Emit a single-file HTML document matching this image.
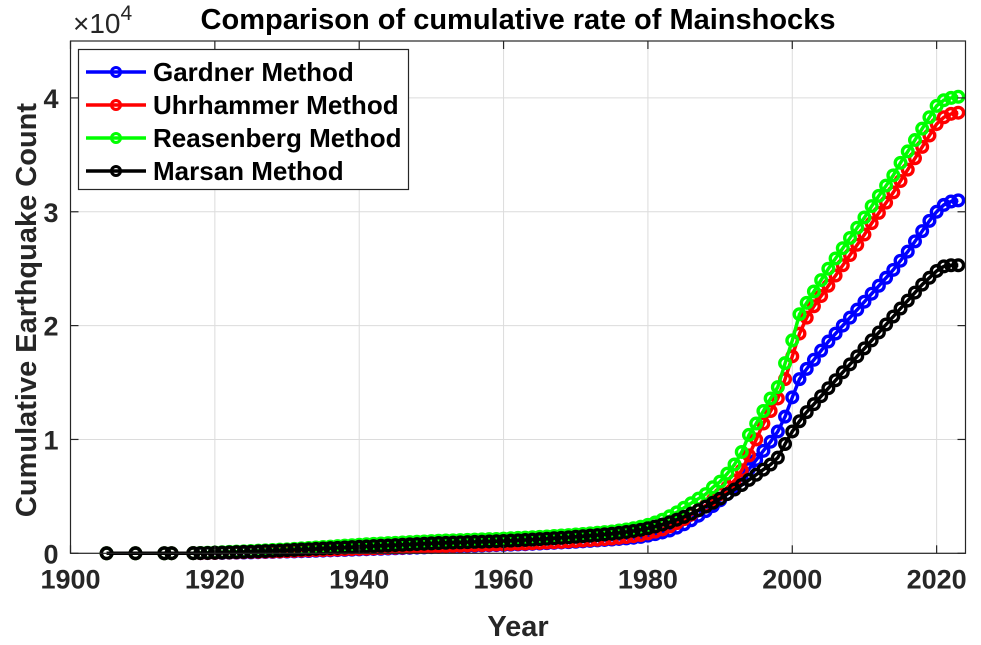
<!DOCTYPE html>
<html><head><meta charset="utf-8"><style>
body{margin:0;background:#fff}
svg text{font-family:"Liberation Sans",Arial,sans-serif;font-weight:bold}
</style></head><body>
<svg id="chart" width="981" height="640" viewBox="0 0 981 640" xmlns="http://www.w3.org/2000/svg">
<rect width="981" height="640" fill="#fff"/>
<g id="grid"></g>
<g id="series"></g>
<rect x="70.5" y="41" width="895" height="512.3" fill="none" stroke="#262626" stroke-width="1.2"/>
<g id="ticks"></g>
<text x="518" y="29" font-size="29" text-anchor="middle" fill="#000">Comparison of cumulative rate of Mainshocks</text>
<text x="73" y="33" font-size="28" fill="#262626" style="font-weight:normal">×10<tspan dy="-13" font-size="21">4</tspan></text>
<text x="518" y="636" font-size="29" text-anchor="middle" fill="#262626">Year</text>
<text transform="translate(36,310) rotate(-90)" font-size="29" text-anchor="middle" fill="#262626">Cumulative Earthquake Count</text>
<g id="legend"></g>
</svg>
<script>
const seriesNames=["Gardner Method","Uhrhammer Method","Reasenberg Method","Marsan Method"];
const seriesColors=["#0000ff","#ff0000","#00ff00","#000000"];
const xTicks=[1900,1920,1940,1960,1980,2000,2020];
const yTicks=[0,10000,20000,30000,40000];
const yTickLabels=["0","1","2","3","4"];
const earlyYears=[1905,1909,1913,1914,1917];
const years=earlyYears.slice();
for(let y=1918;y<=2023;y++)years.push(y);
const gardner=[0,0,5,8,12,
12,20,28,38,50,60,70,80,95,110,125,140,
155,170,185,200,220,240,260,280,300,320,
340,360,380,400,420,440,460,480,500,520,
540,560,580,600,620,640,660,680,700,720,
740,760,780,800,830,860,890,920,950,980,
1010,1050,1090,1130,1170,1210,1260,1310,1370,1440,
1550,1680,1830,2000,2250,2550,2900,3300,3700,4150,
4650,5200,5800,6500,7400,8200,9000,9800,10700,12000,
13700,15300,16200,17000,17800,18600,19300,20000,20700,21400,
22100,22800,23500,24200,24900,25700,26500,27400,28300,29200,
30000,30600,30900,31000];
const uhrhammer=[0,0,5,8,12,
15,25,35,50,65,80,95,110,125,140,155,170,
190,210,230,250,270,290,310,330,350,370,
390,410,430,450,470,490,510,530,550,570,
590,610,630,650,670,690,710,730,750,770,
790,810,830,850,880,910,940,970,1000,1040,
1080,1120,1160,1200,1250,1300,1360,1430,1510,1600,
1750,1900,2100,2350,2650,3000,3400,3800,4200,4700,
5200,5800,6400,7300,8600,10000,11400,12500,13600,15300,
17300,19300,20700,21700,22600,23500,24400,25300,26200,27100,
28000,29000,29900,30800,31700,32700,33700,34700,35700,36700,
37700,38300,38600,38700];
const reasenberg=[0,0,5,8,12,
30,50,70,95,120,145,170,200,230,260,290,320,
350,390,430,470,510,550,590,630,670,710,
750,790,830,860,890,920,950,980,1010,1040,
1070,1100,1120,1140,1160,1180,1200,1220,1240,1260,
1290,1320,1350,1380,1410,1440,1480,1520,1560,1600,
1650,1700,1750,1800,1860,1920,2000,2090,2200,2330,
2500,2700,2950,3250,3600,4000,4400,4800,5200,5800,
6300,7000,7800,8900,10400,11400,12500,13600,14600,16700,
18700,21000,22000,23000,24000,25000,25900,26800,27700,28600,
29500,30500,31400,32300,33200,34300,35300,36300,37300,38300,
39300,39800,40000,40100];
const marsan=[0,0,5,8,12,
20,30,45,60,80,100,120,140,165,190,215,240,
270,300,330,360,390,420,450,480,510,540,
570,600,630,660,690,720,750,780,810,840,
870,900,920,940,960,980,1000,1020,1040,1060,
1080,1110,1140,1170,1200,1240,1280,1320,1360,1400,
1450,1500,1550,1600,1660,1720,1790,1870,1960,2060,
2200,2350,2520,2720,2950,3200,3480,3780,4100,4440,
4800,5200,5600,6000,6450,6900,7350,7800,8400,9600,
10700,11600,12400,13100,13800,14500,15200,15900,16600,17300,
18000,18700,19400,20100,20800,21500,22200,22900,23600,24200,
24800,25200,25300,25300];
const allSeries=[gardner,uhrhammer,reasenberg,marsan];

const L=70.5,R=965.5,T=41,B=553.3,X0=1900,X1=2024,Y0=0,Y1=45000;
const xs=v=>L+(v-X0)/(X1-X0)*(R-L);
const ys=v=>B-(v-Y0)/(Y1-Y0)*(B-T);
const NS="http://www.w3.org/2000/svg";
function mk(tag,attrs,parent){const e=document.createElementNS(NS,tag);for(const k in attrs)e.setAttribute(k,attrs[k]);parent.appendChild(e);return e;}
const grid=document.getElementById('grid'),ticks=document.getElementById('ticks');
xTicks.forEach(t=>{const x=xs(t);
 const g=mk('line',{x1:x,x2:x,y1:T,y2:B,stroke:'#dcdcdc','stroke-width':1},grid);
 
 
 mk('line',{x1:x,x2:x,y1:B,y2:B-8,stroke:'#262626','stroke-width':1.2},ticks);
 mk('line',{x1:x,x2:x,y1:T,y2:T+8,stroke:'#262626','stroke-width':1.2},ticks);
 const tx=mk('text',{x:x,y:B+35,'font-size':27,'text-anchor':'middle',fill:'#262626'},ticks);
 tx.textContent=t;
 
 
});
yTicks.forEach((t,i)=>{const y=ys(t);
 const g=mk('line',{x1:L,x2:R,y1:y,y2:y,stroke:'#dcdcdc','stroke-width':1},grid);
 
 
 mk('line',{x1:L,x2:L+8,y1:y,y2:y,stroke:'#262626','stroke-width':1.2},ticks);
 mk('line',{x1:R,x2:R-8,y1:y,y2:y,stroke:'#262626','stroke-width':1.2},ticks);
 const tx=mk('text',{x:L-12,y:y+10,'font-size':27,'text-anchor':'end',fill:'#262626'},ticks);
 tx.textContent=yTickLabels[i];
 
 
});
const sg=document.getElementById('series');
allSeries.forEach((vals,si)=>{
 const g=mk('g',{},sg);
 
 
 const pts=years.map((yr,i)=>xs(yr).toFixed(1)+','+ys(vals[i]).toFixed(1)).join(' ');
 const pl=mk('polyline',{points:pts,fill:'none',stroke:seriesColors[si],'stroke-width':3.5},g);
 
 
 years.forEach((yr,i)=>{
  const c=mk('circle',{cx:xs(yr),cy:ys(vals[i]),r:5.3,fill:'none',stroke:seriesColors[si],'stroke-width':3.4},g);
  
  
 });
});
const lg=document.getElementById('legend');
mk('rect',{x:78.5,y:49.5,width:330,height:140,fill:'#fff',stroke:'#262626','stroke-width':1.2},lg);
seriesNames.forEach((n,i)=>{const y=72+i*33;
 const e=mk('g',{},lg);
 
 
 mk('line',{x1:86,x2:146,y1:y,y2:y,stroke:seriesColors[i],'stroke-width':3.5},e);
 mk('circle',{cx:116,cy:y,r:4.5,fill:'none',stroke:seriesColors[i],'stroke-width':3},e);
 const t=mk('text',{x:153,y:y+9,'font-size':26,fill:'#000'},e);
 t.textContent=n;
});
</script>
</body></html>
